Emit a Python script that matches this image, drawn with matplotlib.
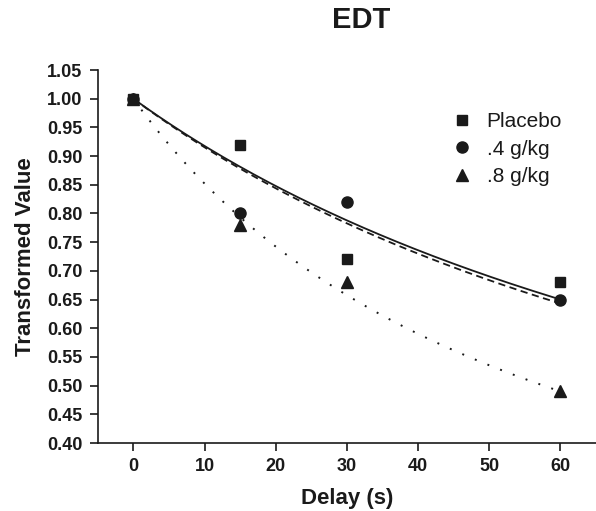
"""EDT: transformed value vs delay with hyperbolic fits per dose."""
import matplotlib

matplotlib.use("Agg")
import matplotlib.pyplot as plt  # noqa: E402
import numpy as np  # noqa: E402

plt.rcParams["font.family"] = ["Liberation Sans", "DejaVu Sans"]

delays = [0, 15, 30, 60]
placebo = [1.00, 0.92, 0.72, 0.68]
dose_04 = [1.00, 0.80, 0.82, 0.65]
dose_08 = [1.00, 0.78, 0.68, 0.49]
labels = ["Placebo", ".4 g/kg", ".8 g/kg"]
# hyperbolic discount rates k for V = 1 / (1 + k*D)
fit_k = [0.00897, 0.00925, 0.01735]

y_ticks = [0.40, 0.45, 0.50, 0.55, 0.60, 0.65, 0.70, 0.75, 0.80, 0.85, 0.90, 0.95, 1.00, 1.05]
x_ticks = [0, 10, 20, 30, 40, 50, 60]

fig = plt.figure(figsize=(5.96, 5.11), dpi=100)
ax = fig.add_axes([0.164, 0.133, 0.836, 0.730])

markers = ["s", "o", "^"]
msizes = [6.5, 8, 8.5]
styles = ["-", (0, (4, 2.5)), (0, (1, 6))]
widths = [1.3, 1.3, 1.4]

d = np.linspace(0, 60, 200)
for vals, lab, m, ms, k, ls, lw in zip(
    (placebo, dose_04, dose_08), labels, markers, msizes, fit_k, styles, widths
):
    ax.plot(d, 1.0 / (1.0 + k * d), color="#1a1a1a", ls=ls, lw=lw, zorder=2)
    ax.plot(delays, vals, ls="none", marker=m, ms=ms, color="#1a1a1a",
            label=lab, zorder=3)

ax.set_xlim(-5, 65)
ax.set_ylim(0.40, 1.05)
ax.set_xticks(x_ticks)
ax.set_yticks(y_ticks)
ax.set_yticklabels([f"{v:.2f}" for v in y_ticks])
for s in ("top", "right"):
    ax.spines[s].set_visible(False)
for s in ("left", "bottom"):
    ax.spines[s].set_linewidth(1.2)
    ax.spines[s].set_color("#1a1a1a")
ax.tick_params(direction="out", length=6, width=1.2, color="#1a1a1a",
               labelsize=13, labelcolor="#1a1a1a", pad=5)
for t in ax.get_xticklabels() + ax.get_yticklabels():
    t.set_fontweight("bold")

ax.set_xlabel("Delay (s)", fontsize=16, fontweight="bold", color="#1a1a1a",
              labelpad=9)
ax.set_ylabel("Transformed Value", fontsize=16, fontweight="bold",
              color="#1a1a1a", labelpad=8)
fig.text(0.606, 0.96, "EDT", ha="center", va="center", fontsize=21,
         fontweight="bold", color="#1a1a1a")

ax.legend(loc="upper left", bbox_to_anchor=(0.672, 0.937), frameon=False,
          fontsize=15, handletextpad=0.7, labelspacing=0.4,
          handlelength=1.0, labelcolor="#1a1a1a")

fig.savefig("out.png", dpi=100)
